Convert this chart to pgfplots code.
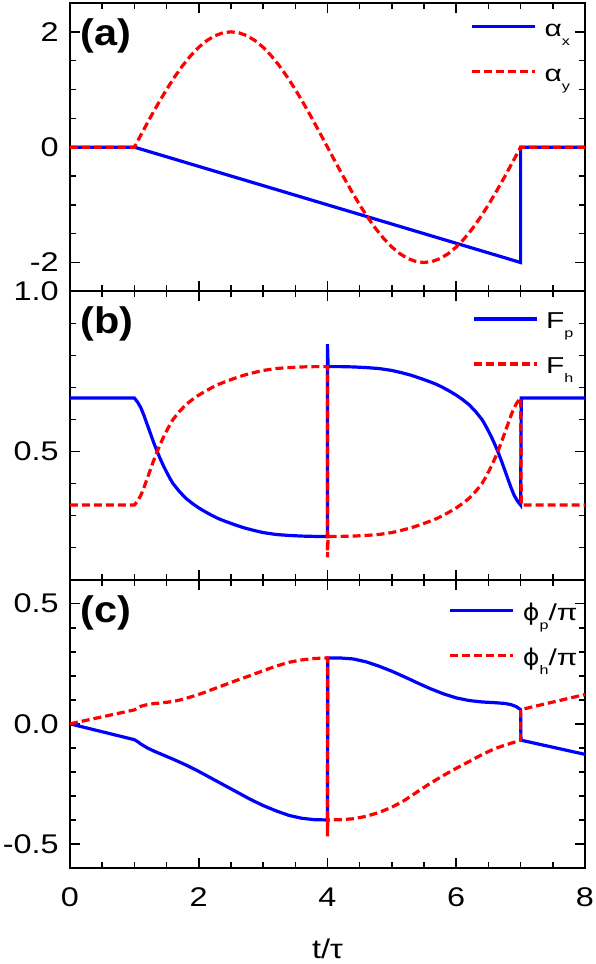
\documentclass[border=0pt]{standalone}
\usepackage{pgfplots}
\pgfplotsset{compat=1.18}
\usepgfplotslibrary{groupplots}
\usepackage{fontspec}
\setmainfont{Liberation Sans}
\newfontfamily\wide{Liberation Sans}[FakeStretch=1.2]
\newfontfamily\legwide{Liberation Sans}[FakeStretch=1.3]
\newfontfamily\greekwide{DejaVu Sans}[FakeStretch=1.1]
\newfontfamily\panelfont{Liberation Sans}[FakeStretch=1.12]
\newcommand\tickfont{\wide\fontsize{13.5}{16}\selectfont}
\newcommand\legfont{\legwide\fontsize{11.5}{14}\selectfont}
\newcommand\sub[1]{\raisebox{-4.5pt}{\fontsize{6.2}{7}\selectfont #1}}
\newcommand\panel[1]{\node[anchor=west,inner sep=0pt,font=\panelfont\bfseries\fontsize{18.5}{22}\selectfont]
  at ([xshift=5pt,yshift=-16.5pt]rel axis cs:0,1) {#1};}
\pgfplotsset{
  pcurve/.style={blue,line width=1.6pt},
  hcurve/.style={red,line width=1.6pt,dash pattern=on 4pt off 2pt},
}
\begin{document}
\begin{tikzpicture}
\begin{groupplot}[
  group style={group size=1 by 3,vertical sep=0pt,xticklabels at=edge bottom,group name=g},
  scale only axis,width=257.5pt,height=144.17pt,
  xmin=0,xmax=8,xtick={0,2,4,6,8},xticklabels={0,2,4,6,8},
  minor xtick={0,0.5,...,8},
  tick align=inside,major tick length=5pt,minor tick length=3pt,
  tick style={black,line width=0.8pt},
  axis line style={line width=1pt},
  ticklabel style={font=\tickfont},
  yticklabel style={anchor=east,inner sep=0pt,xshift=-5.5pt},
  xticklabel style={anchor=base,inner sep=0pt,yshift=-19.3pt},
  legend style={at={(1,1)},anchor=north west,
    draw=none,fill=none,inner sep=0pt,column sep=4pt,font=\legfont,
    nodes={inner sep=0pt,text height=11pt,text depth=11.5pt},cells={anchor=base west}},
  legend image code/.code={\draw[#1] (0pt,5pt) -- (31.5pt,5pt);},
]
% (a) pulse components
\nextgroupplot[ymin=-2.5,ymax=2.5,ytick={-2,0,2},yticklabels={-2,0,2},
  minor ytick={-1.5,-1,-0.5,0.5,1,1.5},legend style={xshift=-57.5pt,yshift=-5.4pt}]
\addplot[pcurve] coordinates {(0,0)(1,0)(7,-2)(7,0)(8,0)};
\addlegendentry{α\sub{x}}
\addplot[hcurve] coordinates {(0,0)(1,0)(1.125,0.261)(1.25,0.518)(1.375,0.765)(1.5,1.0)(1.625,1.218)(1.75,1.414)(1.875,1.587)(2,1.732)(2.125,1.848)(2.25,1.932)(2.375,1.983)(2.5,2)(2.625,1.983)(2.75,1.932)(2.875,1.848)(3,1.732)(3.125,1.587)(3.25,1.414)(3.375,1.218)(3.5,1.0)(3.625,0.765)(3.75,0.518)(3.875,0.261)(4,0)(4.125,-0.261)(4.25,-0.518)(4.375,-0.765)(4.5,-1.0)(4.625,-1.218)(4.75,-1.414)(4.875,-1.587)(5,-1.732)(5.125,-1.848)(5.25,-1.932)(5.375,-1.983)(5.5,-2)(5.625,-1.983)(5.75,-1.932)(5.875,-1.848)(6,-1.732)(6.125,-1.587)(6.25,-1.414)(6.375,-1.218)(6.5,-1.0)(6.625,-0.765)(6.75,-0.518)(6.875,-0.261)(7,0)(8,0)};
\addlegendentry{α\sub{y}}
\panel{(a)}
% (b) populations
\nextgroupplot[ymin=0.1,ymax=1.0,ytick={0.5,1.0},yticklabels={0.5,1.0},
  minor ytick={0.2,0.3,0.4,0.6,0.7,0.8,0.9},legend style={xshift=-56.7pt,yshift=-7.6pt}]
\addplot[pcurve] coordinates {(0,0.667)(1,0.667)(1.05,0.654)(1.1,0.637)(1.15,0.612)(1.2,0.584)(1.25,0.556)(1.3,0.528)(1.35,0.502)(1.4,0.478)(1.45,0.456)(1.5,0.436)(1.55,0.417)(1.6,0.400)(1.7,0.375)(1.8,0.354)(1.9,0.338)(2.0,0.324)(2.1,0.312)(2.2,0.301)(2.3,0.291)(2.4,0.283)(2.55,0.272)(2.7,0.262)(2.85,0.254)(3.0,0.247)(3.2,0.241)(3.4,0.238)(3.6,0.236)(3.8,0.235)(4.0,0.235)
  (4.0,0.835)(4.01,0.765)(4.2,0.765)(4.4,0.764)(4.6,0.762)(4.8,0.759)(5.0,0.753)(5.15,0.746)(5.3,0.738)(5.45,0.728)(5.6,0.717)(5.7,0.709)(5.8,0.699)(5.9,0.688)(6.0,0.676)(6.1,0.662)(6.2,0.646)(6.3,0.625)(6.4,0.600)(6.45,0.583)(6.5,0.564)(6.55,0.544)(6.6,0.522)(6.65,0.498)(6.7,0.472)(6.75,0.444)(6.8,0.416)(6.85,0.388)(6.9,0.363)(6.95,0.346)(7.0,0.333)
  (7.01,0.667)(8,0.667)};
\addlegendentry{F\sub{p}}
\addplot[hcurve] coordinates {(0,0.333)(1,0.333)(1.05,0.346)(1.1,0.363)(1.15,0.388)(1.2,0.416)(1.25,0.444)(1.3,0.472)(1.35,0.498)(1.4,0.522)(1.45,0.544)(1.5,0.564)(1.55,0.583)(1.6,0.600)(1.7,0.625)(1.8,0.646)(1.9,0.662)(2.0,0.676)(2.1,0.688)(2.2,0.699)(2.3,0.709)(2.4,0.717)(2.55,0.728)(2.7,0.738)(2.85,0.746)(3.0,0.753)(3.2,0.759)(3.4,0.762)(3.6,0.764)(3.8,0.765)(4.0,0.765)
  (4.0,0.17)(4.01,0.235)(4.2,0.235)(4.4,0.236)(4.6,0.238)(4.8,0.241)(5.0,0.247)(5.15,0.254)(5.3,0.262)(5.45,0.272)(5.6,0.283)(5.7,0.291)(5.8,0.301)(5.9,0.312)(6.0,0.324)(6.1,0.338)(6.2,0.354)(6.3,0.375)(6.4,0.400)(6.45,0.417)(6.5,0.436)(6.55,0.456)(6.6,0.478)(6.65,0.502)(6.7,0.528)(6.75,0.556)(6.8,0.584)(6.85,0.612)(6.9,0.637)(6.95,0.654)(7.0,0.667)
  (7.01,0.333)(8,0.333)};
\addlegendentry{F\sub{h}}
\panel{(b)}
% (c) phases
\nextgroupplot[ymin=-0.6,ymax=0.6,ytick={-0.5,0,0.5},yticklabels={-0.5,0.0,0.5},
  minor ytick={-0.4,-0.3,-0.2,-0.1,0.1,0.2,0.3,0.4},legend style={xshift=-68.3pt,yshift=-9.3pt},
  xlabel={t/τ},xlabel style={font=\tickfont,at={(axis description cs:0.5,0)},anchor=base,yshift=-45pt}]
\addplot[pcurve] coordinates {(0,0)(1,-0.066)(1.05,-0.074)(1.1,-0.084)(1.2,-0.100)(1.3,-0.113)(1.45,-0.130)(1.6,-0.147)(1.8,-0.171)(2.0,-0.198)(2.2,-0.227)(2.4,-0.256)(2.6,-0.285)(2.8,-0.314)(3.0,-0.340)(3.2,-0.362)(3.4,-0.381)(3.6,-0.393)(3.8,-0.399)(4.0,-0.400)
  (4.005,0.274)(4.2,0.274)(4.4,0.270)(4.6,0.258)(4.8,0.240)(5.0,0.219)(5.2,0.195)(5.4,0.170)(5.6,0.146)(5.8,0.125)(6.0,0.108)(6.2,0.097)(6.4,0.091)(6.6,0.088)(6.75,0.085)(6.85,0.080)(6.93,0.072)(7.0,0.059)
  (7.005,-0.068)(8,-0.127)};
\addlegendentry{{\greekwide ϕ}\sub{p}/π}
\addplot[hcurve] coordinates {(0,0)(1,0.058)(1.05,0.066)(1.1,0.073)(1.2,0.080)(1.3,0.084)(1.45,0.088)(1.6,0.093)(1.75,0.102)(1.9,0.114)(2.05,0.127)(2.2,0.142)(2.4,0.162)(2.6,0.182)(2.8,0.201)(3.0,0.221)(3.2,0.240)(3.4,0.256)(3.6,0.266)(3.8,0.272)(4.0,0.274)
  (4.0,-0.468)(4.005,-0.400)(4.2,-0.399)(4.4,-0.395)(4.6,-0.385)(4.8,-0.369)(5.0,-0.347)(5.2,-0.318)(5.4,-0.282)(5.6,-0.247)(5.8,-0.215)(6.0,-0.185)(6.2,-0.157)(6.4,-0.128)(6.6,-0.103)(6.8,-0.085)(7.0,-0.068)
  (7.0,0.059)(8,0.122)};
\addlegendentry{{\greekwide ϕ}\sub{h}/π}
\panel{(c)}
\end{groupplot}
\pgfresetboundingbox
\path ([xshift=-35pt,yshift=1.5pt]g c1r1.north west) rectangle ([xshift=5.5pt,yshift=-48pt]g c1r3.south east);
\end{tikzpicture}
\end{document}
